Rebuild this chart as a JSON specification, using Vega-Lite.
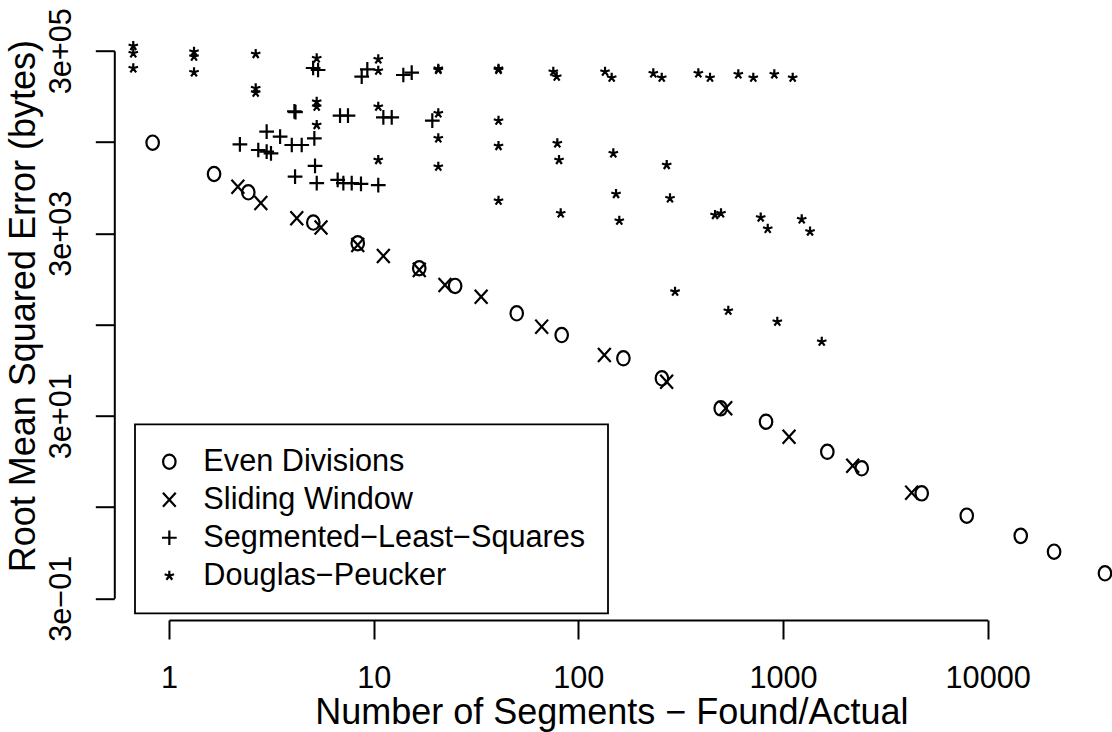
{
  "$schema": "https://vega.github.io/schema/vega-lite/v6.json",
  "width": 818.7,
  "height": 547.6,
  "autosize": {"type": "none"},
  "padding": {"left": 169, "top": 50.7, "right": 124.3, "bottom": 133.7},
  "background": "white",
  "config": {
    "font": "Liberation Sans",
    "view": {"stroke": null},
    "axis": {
      "grid": false,
      "domainColor": "black",
      "domainWidth": 2,
      "tickColor": "black",
      "tickWidth": 2,
      "tickSize": 19,
      "labelColor": "black",
      "labelFont": "Liberation Sans",
      "labelFontSize": 30.67,
      "labelOverlap": false,
      "labelFlush": false,
      "labelBound": false,
      "titleColor": "black",
      "titleFont": "Liberation Sans",
      "titleFontSize": 36,
      "titleFontWeight": "normal"
    },
    "legend": {"strokeWidth": 1.8}
  },
  "data": {
    "values": [
      {"method": "Even Divisions", "segments": 0.832, "rmse": 29450},
      {"method": "Even Divisions", "segments": 1.66, "rmse": 13370},
      {"method": "Even Divisions", "segments": 2.44, "rmse": 8430},
      {"method": "Even Divisions", "segments": 5.07, "rmse": 3930},
      {"method": "Even Divisions", "segments": 8.36, "rmse": 2330},
      {"method": "Even Divisions", "segments": 16.7, "rmse": 1240},
      {"method": "Even Divisions", "segments": 25.0, "rmse": 793},
      {"method": "Even Divisions", "segments": 50.0, "rmse": 398},
      {"method": "Even Divisions", "segments": 82.9, "rmse": 230},
      {"method": "Even Divisions", "segments": 166, "rmse": 128},
      {"method": "Even Divisions", "segments": 256, "rmse": 77.2},
      {"method": "Even Divisions", "segments": 496, "rmse": 36.2},
      {"method": "Even Divisions", "segments": 826, "rmse": 25.8},
      {"method": "Even Divisions", "segments": 1646, "rmse": 12.1},
      {"method": "Even Divisions", "segments": 2424, "rmse": 7.97},
      {"method": "Even Divisions", "segments": 4760, "rmse": 4.24},
      {"method": "Even Divisions", "segments": 7900, "rmse": 2.41},
      {"method": "Even Divisions", "segments": 14500, "rmse": 1.45},
      {"method": "Even Divisions", "segments": 21100, "rmse": 0.972},
      {"method": "Even Divisions", "segments": 37400, "rmse": 0.564},
      {"method": "Sliding Window", "segments": 2.17, "rmse": 9700},
      {"method": "Sliding Window", "segments": 2.81, "rmse": 6430},
      {"method": "Sliding Window", "segments": 4.21, "rmse": 4370},
      {"method": "Sliding Window", "segments": 5.53, "rmse": 3470},
      {"method": "Sliding Window", "segments": 8.36, "rmse": 2230},
      {"method": "Sliding Window", "segments": 11.15, "rmse": 1690},
      {"method": "Sliding Window", "segments": 16.7, "rmse": 1190},
      {"method": "Sliding Window", "segments": 22.3, "rmse": 813},
      {"method": "Sliding Window", "segments": 33.5, "rmse": 605},
      {"method": "Sliding Window", "segments": 66.2, "rmse": 284},
      {"method": "Sliding Window", "segments": 134, "rmse": 139},
      {"method": "Sliding Window", "segments": 270, "rmse": 70.9},
      {"method": "Sliding Window", "segments": 525, "rmse": 36.2},
      {"method": "Sliding Window", "segments": 1070, "rmse": 17.7},
      {"method": "Sliding Window", "segments": 2190, "rmse": 8.51},
      {"method": "Sliding Window", "segments": 4250, "rmse": 4.31},
      {"method": "Segmented−Least−Squares", "segments": 5.06, "rmse": 193900},
      {"method": "Segmented−Least−Squares", "segments": 5.35, "rmse": 184400},
      {"method": "Segmented−Least−Squares", "segments": 8.74, "rmse": 155700},
      {"method": "Segmented−Least−Squares", "segments": 9.31, "rmse": 187600},
      {"method": "Segmented−Least−Squares", "segments": 13.96, "rmse": 162500},
      {"method": "Segmented−Least−Squares", "segments": 15.34, "rmse": 172200},
      {"method": "Segmented−Least−Squares", "segments": 4.10, "rmse": 65000},
      {"method": "Segmented−Least−Squares", "segments": 4.15, "rmse": 63800},
      {"method": "Segmented−Least−Squares", "segments": 6.85, "rmse": 58200},
      {"method": "Segmented−Least−Squares", "segments": 7.49, "rmse": 58200},
      {"method": "Segmented−Least−Squares", "segments": 11.15, "rmse": 55900},
      {"method": "Segmented−Least−Squares", "segments": 12.25, "rmse": 55900},
      {"method": "Segmented−Least−Squares", "segments": 19.34, "rmse": 51300},
      {"method": "Segmented−Least−Squares", "segments": 3.00, "rmse": 38900},
      {"method": "Segmented−Least−Squares", "segments": 3.49, "rmse": 34300},
      {"method": "Segmented−Least−Squares", "segments": 2.22, "rmse": 28300},
      {"method": "Segmented−Least−Squares", "segments": 3.98, "rmse": 27800},
      {"method": "Segmented−Least−Squares", "segments": 4.45, "rmse": 27800},
      {"method": "Segmented−Least−Squares", "segments": 5.13, "rmse": 32900},
      {"method": "Segmented−Least−Squares", "segments": 2.73, "rmse": 24500},
      {"method": "Segmented−Least−Squares", "segments": 3.00, "rmse": 23500},
      {"method": "Segmented−Least−Squares", "segments": 3.15, "rmse": 22500},
      {"method": "Segmented−Least−Squares", "segments": 5.17, "rmse": 16400},
      {"method": "Segmented−Least−Squares", "segments": 4.13, "rmse": 12500},
      {"method": "Segmented−Least−Squares", "segments": 5.27, "rmse": 10600},
      {"method": "Segmented−Least−Squares", "segments": 6.67, "rmse": 11500},
      {"method": "Segmented−Least−Squares", "segments": 7.11, "rmse": 10600},
      {"method": "Segmented−Least−Squares", "segments": 7.81, "rmse": 10600},
      {"method": "Segmented−Least−Squares", "segments": 8.67, "rmse": 10400},
      {"method": "Segmented−Least−Squares", "segments": 10.53, "rmse": 10100},
      {"method": "Douglas−Peucker", "segments": 0.669, "rmse": 337800},
      {"method": "Douglas−Peucker", "segments": 0.669, "rmse": 280900},
      {"method": "Douglas−Peucker", "segments": 0.669, "rmse": 192400},
      {"method": "Douglas−Peucker", "segments": 1.325, "rmse": 292500},
      {"method": "Douglas−Peucker", "segments": 1.325, "rmse": 257800},
      {"method": "Douglas−Peucker", "segments": 1.325, "rmse": 174000},
      {"method": "Douglas−Peucker", "segments": 2.652, "rmse": 276000},
      {"method": "Douglas−Peucker", "segments": 2.652, "rmse": 116200},
      {"method": "Douglas−Peucker", "segments": 2.652, "rmse": 104000},
      {"method": "Douglas−Peucker", "segments": 5.268, "rmse": 247600},
      {"method": "Douglas−Peucker", "segments": 5.268, "rmse": 82850},
      {"method": "Douglas−Peucker", "segments": 5.268, "rmse": 73030},
      {"method": "Douglas−Peucker", "segments": 5.268, "rmse": 46030},
      {"method": "Douglas−Peucker", "segments": 10.53, "rmse": 241500},
      {"method": "Douglas−Peucker", "segments": 10.53, "rmse": 181100},
      {"method": "Douglas−Peucker", "segments": 10.53, "rmse": 73030},
      {"method": "Douglas−Peucker", "segments": 10.53, "rmse": 19040},
      {"method": "Douglas−Peucker", "segments": 20.69, "rmse": 190000},
      {"method": "Douglas−Peucker", "segments": 20.69, "rmse": 185000},
      {"method": "Douglas−Peucker", "segments": 20.69, "rmse": 61840},
      {"method": "Douglas−Peucker", "segments": 20.69, "rmse": 32910},
      {"method": "Douglas−Peucker", "segments": 20.69, "rmse": 16070},
      {"method": "Douglas−Peucker", "segments": 40.73, "rmse": 190000},
      {"method": "Douglas−Peucker", "segments": 40.73, "rmse": 185000},
      {"method": "Douglas−Peucker", "segments": 40.73, "rmse": 51300},
      {"method": "Douglas−Peucker", "segments": 40.73, "rmse": 27090},
      {"method": "Douglas−Peucker", "segments": 40.73, "rmse": 6817},
      {"method": "Douglas−Peucker", "segments": 75.45, "rmse": 176600},
      {"method": "Douglas−Peucker", "segments": 78.4, "rmse": 155700},
      {"method": "Douglas−Peucker", "segments": 78.93, "rmse": 29010},
      {"method": "Douglas−Peucker", "segments": 80.45, "rmse": 19040},
      {"method": "Douglas−Peucker", "segments": 82.0, "rmse": 4962},
      {"method": "Douglas−Peucker", "segments": 135, "rmse": 176600},
      {"method": "Douglas−Peucker", "segments": 145.5, "rmse": 151800},
      {"method": "Douglas−Peucker", "segments": 148.2, "rmse": 22540},
      {"method": "Douglas−Peucker", "segments": 152.8, "rmse": 8072},
      {"method": "Douglas−Peucker", "segments": 158.5, "rmse": 4116},
      {"method": "Douglas−Peucker", "segments": 232.4, "rmse": 169600},
      {"method": "Douglas−Peucker", "segments": 255.5, "rmse": 151800},
      {"method": "Douglas−Peucker", "segments": 270.2, "rmse": 16780},
      {"method": "Douglas−Peucker", "segments": 280.4, "rmse": 7241},
      {"method": "Douglas−Peucker", "segments": 296.8, "rmse": 686.5},
      {"method": "Douglas−Peucker", "segments": 385.7, "rmse": 169600},
      {"method": "Douglas−Peucker", "segments": 439.9, "rmse": 151800},
      {"method": "Douglas−Peucker", "segments": 465.4, "rmse": 4753},
      {"method": "Douglas−Peucker", "segments": 497.7, "rmse": 4962},
      {"method": "Douglas−Peucker", "segments": 540.3, "rmse": 425},
      {"method": "Douglas−Peucker", "segments": 604.7, "rmse": 165400},
      {"method": "Douglas−Peucker", "segments": 715.8, "rmse": 151800},
      {"method": "Douglas−Peucker", "segments": 778, "rmse": 4462},
      {"method": "Douglas−Peucker", "segments": 842, "rmse": 3355},
      {"method": "Douglas−Peucker", "segments": 937.8, "rmse": 322},
      {"method": "Douglas−Peucker", "segments": 906.6, "rmse": 165400},
      {"method": "Douglas−Peucker", "segments": 1115, "rmse": 151800},
      {"method": "Douglas−Peucker", "segments": 1234, "rmse": 4264},
      {"method": "Douglas−Peucker", "segments": 1355, "rmse": 3135},
      {"method": "Douglas−Peucker", "segments": 1546, "rmse": 194.4}
    ]
  },
  "mark": {"type": "point", "filled": false, "strokeWidth": 2.2, "size": 256, "color": "black", "opacity": 1},
  "encoding": {
    "x": {
      "field": "segments",
      "type": "quantitative",
      "scale": {"type": "log", "domain": [1, 10000], "nice": false},
      "title": "Number of Segments − Found/Actual",
      "axis": {
        "values": [1, 10, 100, 1000, 10000],
        "format": "d",
        "offset": 21.7,
        "labelBaseline": "alphabetic",
        "labelAlign": "center",
        "labelPadding": 48,
        "titleBaseline": "alphabetic",
        "titleAlign": "center",
        "titleX": 442.3,
        "titleY": 103
      }
    },
    "y": {
      "field": "rmse",
      "type": "quantitative",
      "scale": {"type": "log", "domain": [0.3, 300000], "nice": false},
      "title": "Root Mean Squared Error (bytes)",
      "axis": {
        "values": [0.3, 3, 30, 300, 3000, 30000, 300000],
        "labelExpr": "datum.value == 0.3 ? '3e−01' : datum.value == 30 ? '3e+01' : datum.value == 3000 ? '3e+03' : datum.value == 300000 ? '3e+05' : ''",
        "offset": 54.7,
        "labelAngle": 270,
        "labelAlign": "center",
        "labelBaseline": "alphabetic",
        "labelPadding": 24.4,
        "titleAngle": 270,
        "titleBaseline": "alphabetic",
        "titleAlign": "center",
        "titleX": -80,
        "titleY": 255
      }
    },
    "shape": {
      "field": "method",
      "type": "nominal",
      "scale": {
        "domain": ["Even Divisions", "Sliding Window", "Segmented−Least−Squares", "Douglas−Peucker"],
        "range": [
          "M0,-0.9C0.431,-0.9 0.78,-0.497 0.78,0C0.78,0.497 0.431,0.9 0,0.9C-0.431,0.9 -0.78,0.497 -0.78,0C-0.78,-0.497 -0.431,-0.9 0,-0.9Z",
          "M-0.8,-0.88L0.8,0.88M-0.8,0.88L0.8,-0.88",
          "M-0.92,0L0.92,0M0,-0.92L0,0.92",
          "M0,0L0,-0.62M0,0L0.59,-0.19M0,0L-0.59,-0.19M0,0L-0.36,0.5M0,0L0.36,0.5"
        ]
      },
      "legend": {
        "title": null,
        "orient": "none",
        "legendX": -34,
        "legendY": 373.7,
        "padding": 22,
        "strokeColor": "black",
        "labelFont": "Liberation Sans",
        "labelFontSize": 30.67,
        "labelColor": "black",
        "labelLimit": 1000,
        "labelOffset": 18.7,
        "rowPadding": 6,
        "symbolOffset": -3,
        "symbolSize": 256,
        "symbolStrokeWidth": 2.2,
        "symbolStrokeColor": "black",
        "symbolFillColor": "transparent"
      }
    }
  }
}
